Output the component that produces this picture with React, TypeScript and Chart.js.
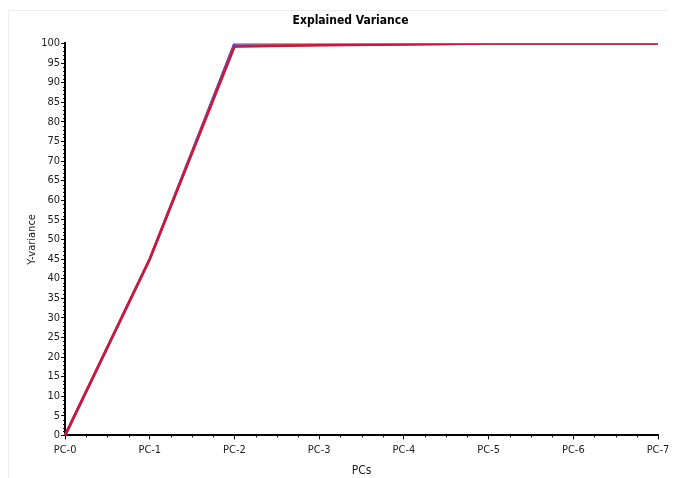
import React, { useEffect, useRef } from "react";
import { Chart, registerables } from "chart.js";

Chart.register(...registerables);

const categories = ["PC-0", "PC-1", "PC-2", "PC-3", "PC-4", "PC-5", "PC-6", "PC-7"];
const blueSeries = [0, 45, 100, 100, 100, 100, 100, 100];
const orangeSeries = [0, 45, 99.3, 99.6, 99.8, 100, 100, 100];
const redSeries = [0, 45, 99.2, 99.5, 99.7, 100, 100, 100];
const yTicks = [0, 5, 10, 15, 20, 25, 30, 35, 40, 45, 50, 55, 60, 65, 70, 75, 80, 85, 90, 95, 100];
const titleText = "Explained Variance";

const FONT = "'DejaVu Sans Condensed', 'Liberation Sans', Arial, sans-serif";

const minorTicks = {
  id: "minorTicks",
  afterDraw(chart: any) {
    const ctx = chart.ctx;
    const y = chart.scales.y;
    const x = chart.scales.x;
    ctx.save();
    ctx.strokeStyle = "#000";
    ctx.lineWidth = 1;
    ctx.beginPath();
    for (let v = 0; v <= 100; v += 1) {
      if (v % 5 === 0) continue;
      const py = Math.round(y.getPixelForValue(v)) + 0.5;
      ctx.moveTo(x.left - 2, py);
      ctx.lineTo(x.left, py);
    }
    for (let i = 0; i < categories.length - 1; i++) {
      for (let k = 1; k < 4; k++) {
        const px = Math.round(x.getPixelForValue(i + k / 4)) + 0.5;
        ctx.moveTo(px, y.bottom);
        ctx.lineTo(px, y.bottom + 2);
      }
    }
    ctx.stroke();
    // title, slightly left of plot centre as in the reference
    ctx.fillStyle = "#000";
    ctx.font = "bold 12px " + FONT;
    ctx.textAlign = "center";
    ctx.textBaseline = "middle";
    ctx.fillText(titleText, (x.left + x.right) / 2 - 11, 21);
    ctx.restore();
  },
};

export default function App() {
  const ref = useRef<HTMLCanvasElement>(null);
  useEffect(() => {
    if (!ref.current) return;
    const chart = new Chart(ref.current, {
      type: "line",
      data: {
        labels: categories,
        datasets: [
          { label: "blue", data: blueSeries, borderColor: "#4a3cc8", borderWidth: 2.5, pointRadius: 0, tension: 0, order: 3 },
          { label: "orange", data: orangeSeries, borderColor: "#e0602a", borderWidth: 2.5, pointRadius: 0, tension: 0, order: 2 },
          { label: "red", data: redSeries, borderColor: "#cc1640", borderWidth: 2.5, pointRadius: 0, tension: 0, order: 1 },
        ],
      },
      options: {
        animation: false,
        responsive: false,
        maintainAspectRatio: false,
        layout: { padding: { left: 22, right: 16, top: 5, bottom: 0 } },
        plugins: {
          legend: { display: false },
          tooltip: { enabled: false },
          title: {
            display: true,
            text: titleText,
            color: "rgba(0,0,0,0)",
            font: { family: FONT, size: 12, weight: "bold" },
            padding: { top: 12, bottom: 12 },
          },
        },
        scales: {
          x: {
            type: "category",
            offset: false,
            grid: { display: true, drawOnChartArea: false, drawTicks: true, tickLength: 4, color: "#000" },
            border: { display: true, color: "#000", width: 2 },
            ticks: { color: "#222", font: { family: FONT, size: 11 }, padding: 4, maxRotation: 0, autoSkip: false },
            title: { display: true, text: "PCs", color: "#222", font: { family: FONT, size: 12 }, padding: { top: 3, bottom: 0 } },
          },
          y: {
            min: 0,
            max: 100,
            afterBuildTicks: (s: any) => {
              s.ticks = yTicks.map((v) => ({ value: v }));
            },
            grid: { display: true, drawOnChartArea: false, drawTicks: true, tickLength: 4, color: "#000" },
            border: { display: true, color: "#000", width: 2 },
            ticks: { color: "#222", font: { family: FONT, size: 11 }, padding: 1, autoSkip: false },
            title: { display: true, text: "Y-variance", color: "#222", font: { family: FONT, size: 11 }, padding: { bottom: 1 } },
          },
        },
      },
      plugins: [minorTicks],
    });
    return () => chart.destroy();
  }, []);
  return (
    <div style={{ position: "absolute", left: 0, top: 0, width: 674, height: 478, background: "#fff" }}>
      <div style={{ position: "absolute", left: 8, top: 10, width: 658, height: 468, borderTop: "1px solid #eee", borderLeft: "1px solid #eee" }} />
      <canvas ref={ref} width={674} height={478} style={{ position: "absolute", left: 0, top: 0 }} />
    </div>
  );
}
